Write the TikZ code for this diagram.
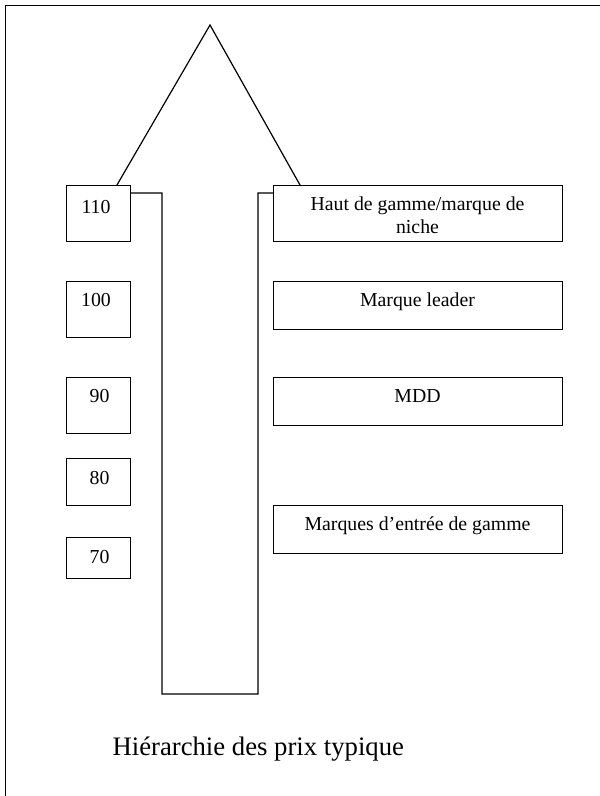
\documentclass[tikz,border=0pt]{standalone}
\usepackage{fontspec}
\setmainfont{Liberation Serif}
\begin{document}
\begin{tikzpicture}[x=1pt,y=-1pt, line width=1.2pt,
  box/.style={draw, fill=white, rectangle, inner sep=0pt, anchor=north west},
  txt/.style={anchor=base, inner sep=0pt, align=center, font=\fontsize{19.8}{22.3}\selectfont},
  ttl/.style={anchor=base west, inner sep=0pt, font=\fontsize{26.7}{32}\selectfont}]
\useasboundingbox (0,0) rectangle (600,796);
\clip (0,0) rectangle (600,796);
% outer frame (right and bottom edges lie outside the picture)
\draw (5.7,5.4) rectangle (620,820);
% block arrow
\draw[fill=white, line join=miter] (210,25) -- (304.5,193) -- (258,193) -- (258,694) -- (162,694) -- (162,193) -- (112.3,193) -- cycle;
% left boxes
\node[box, minimum width=64.5pt, minimum height=56pt] (b110) at (65.5,185) {};
\node[box, minimum width=64.5pt, minimum height=56pt] (b100) at (65.5,281) {};
\node[box, minimum width=64.5pt, minimum height=56pt] (b90) at (65.5,377) {};
\node[box, minimum width=64.5pt, minimum height=47pt] (b80) at (65.5,458) {};
\node[box, minimum width=64.5pt, minimum height=41pt] (b70) at (65.5,537) {};
\node[txt] (t110) at (96,213) {110};
\node[txt] (t100) at (96,306.7) {100};
\node[txt] (t90) at (99.6,402.7) {90};
\node[txt] (t80) at (99.6,484) {80};
\node[txt] (t70) at (99.6,563) {70};
% right boxes
\node[box, minimum width=289pt, minimum height=56pt] (haut) at (273,185) {};
\node[box, minimum width=289pt, minimum height=48pt] (leader) at (273,281) {};
\node[box, minimum width=289pt, minimum height=48pt] (mdd) at (273,377) {};
\node[box, minimum width=289pt, minimum height=48pt] (entree) at (273,505) {};
\node[txt] (thaut1) at (417.5,210.7) {Haut de gamme/marque de};
\node[txt] (thaut2) at (417.5,233) {niche};
\node[txt] (tleader) at (417.5,306.7) {Marque leader};
\node[txt] (tmdd) at (417.5,402.7) {MDD};
\node[txt] (tentree) at (417.5,530) {Marques d’entrée de gamme};
% title
\node[ttl] (title) at (112,755) {Hiérarchie des prix typique};
\end{tikzpicture}
\end{document}
